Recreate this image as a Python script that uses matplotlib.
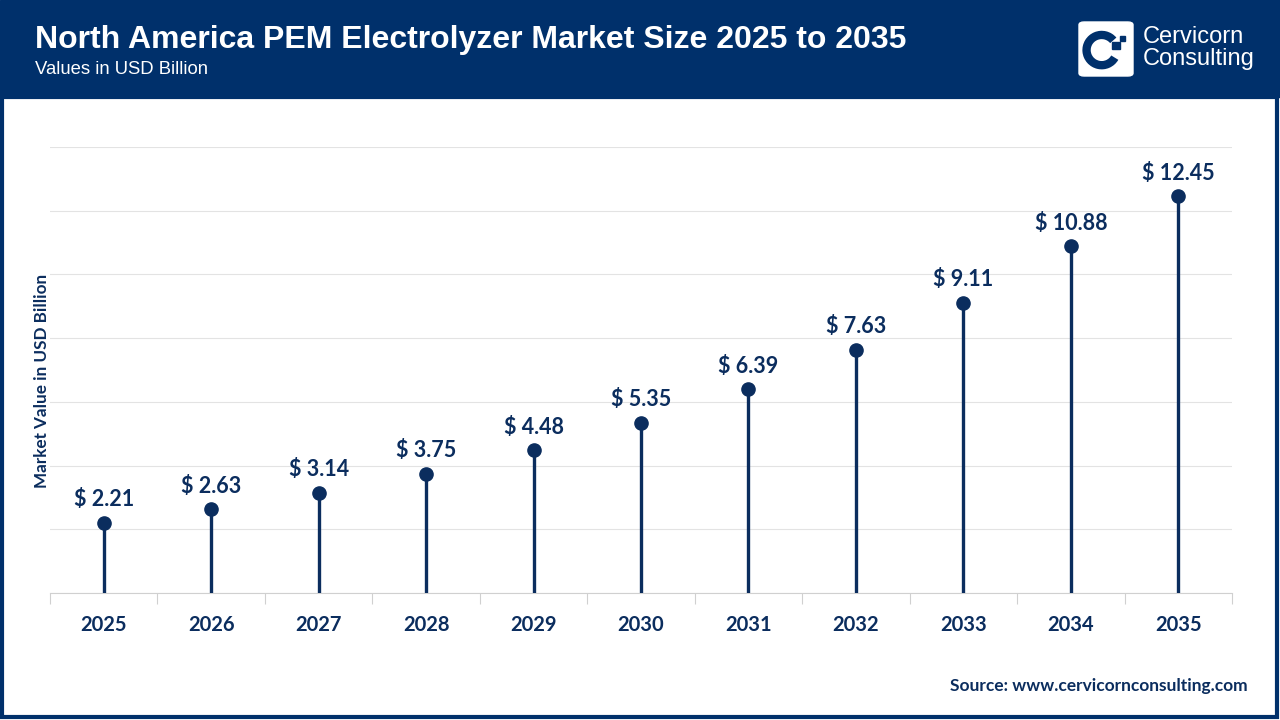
import matplotlib.pyplot as plt
from matplotlib.patches import Rectangle, FancyBboxPatch, Arc

years = ['2025', '2026', '2027', '2028', '2029', '2030', '2031', '2032', '2033', '2034', '2035']
values = [2.21, 2.63, 3.14, 3.75, 4.48, 5.35, 6.39, 7.63, 9.11, 10.88, 12.45]

NAVY = '#00306B'
DARK = '#0B2D5E'
plt.rcParams['font.family'] = ['Lato', 'DejaVu Sans']

fig = plt.figure(figsize=(12.8, 7.2), dpi=100)

# header band and frame
fig.patches.append(Rectangle((0, 1 - 97 / 720), 1, 97 / 720, transform=fig.transFigure,
                             color=NAVY, zorder=0))
fig.patches.append(Rectangle((0.0015, 0.004), 0.996, 1 - 97 / 720 - 0.004, transform=fig.transFigure,
                             fill=False, edgecolor=NAVY, linewidth=3, zorder=0))

fig.text(35 / 1280, 1 - 40 / 720, 'North America PEM Electrolyzer Market Size 2025 to 2035',
         color='white', fontsize=23, fontweight='bold', va='center', ha='left',
         family=['Liberation Sans', 'DejaVu Sans'])
fig.text(35 / 1280, 1 - 70 / 720, 'Values in USD Billion', color='white', fontsize=13.3,
         va='center', ha='left', family=['Liberation Sans', 'DejaVu Sans'])

# logo
fig.patches.append(FancyBboxPatch((1079 / 1280, 1 - 76 / 720), 54 / 1280, 54 / 720,
                                  boxstyle='round,pad=0,rounding_size=0.004',
                                  transform=fig.transFigure, color='white', zorder=1))
lax = fig.add_axes([1079 / 1280, 1 - 76 / 720, 54 / 1280, 54 / 720])
lax.set_zorder(3)
lax.patch.set_alpha(0)
lax.set_xlim(0, 1)
lax.set_ylim(0, 1)
lax.axis('off')
lax.add_patch(Arc((0.42, 0.48), 0.56, 0.56, theta1=40, theta2=330, color=NAVY, linewidth=6))
lax.add_patch(Rectangle((0.62, 0.5), 0.13, 0.13, color=NAVY))
lax.add_patch(Rectangle((0.76, 0.64), 0.1, 0.1, color=NAVY))
fig.text(1143 / 1280, 1 - 48 / 720, 'Cervicorn\nConsulting', color='white', fontsize=17,
         va='center', ha='left', linespacing=1.0, family=['Liberation Sans', 'DejaVu Sans'])

ax = fig.add_axes([50 / 1280, 1 - 593 / 720, 1182 / 1280, 446 / 720])
x = list(range(len(years)))
ax.vlines(x, 0, values, color=DARK, linewidth=2.4, zorder=3)
ax.plot(x, values, 'o', color=DARK, markersize=9.5, zorder=4)
for xi, v in zip(x, values):
    ax.annotate(f'$ {v:.2f}', (xi, v), xytext=(0, 9), textcoords='offset points',
                ha='center', va='bottom', fontsize=15.5, fontweight='bold', color=DARK)

ax.set_xlim(-0.5, len(years) - 0.5)
ax.set_ylim(0, 14)
ax.set_yticks(range(0, 15, 2))
ax.yaxis.grid(True, color='#E3E3E3', linewidth=0.8)
ax.set_axisbelow(True)
ax.tick_params(axis='y', left=False, labelleft=False)
ax.set_xticks(x)
ax.set_xticklabels(years, fontsize=14.5, fontweight='bold', color=DARK)
ax.tick_params(axis='x', length=0, pad=16)
ax.set_xticks([i - 0.5 for i in range(len(years) + 1)], minor=True)
ax.tick_params(axis='x', which='minor', length=8, color='#D0D0D0', width=0.8)
for s in ['top', 'right', 'left']:
    ax.spines[s].set_visible(False)
ax.spines['bottom'].set_color('#D0D0D0')
ax.spines['bottom'].set_linewidth(0.8)

fig.text(42 / 1280, 1 - 381 / 720, 'Market Value in USD Billion', rotation=90, fontsize=12.3,
         fontweight='bold', color=DARK, va='center', ha='center')
fig.text(1248 / 1280, 1 - 686 / 720, 'Source: www.cervicornconsulting.com', fontsize=12.5,
         fontweight='bold', color=DARK, va='center', ha='right')

fig.savefig('out.png', dpi=100)
